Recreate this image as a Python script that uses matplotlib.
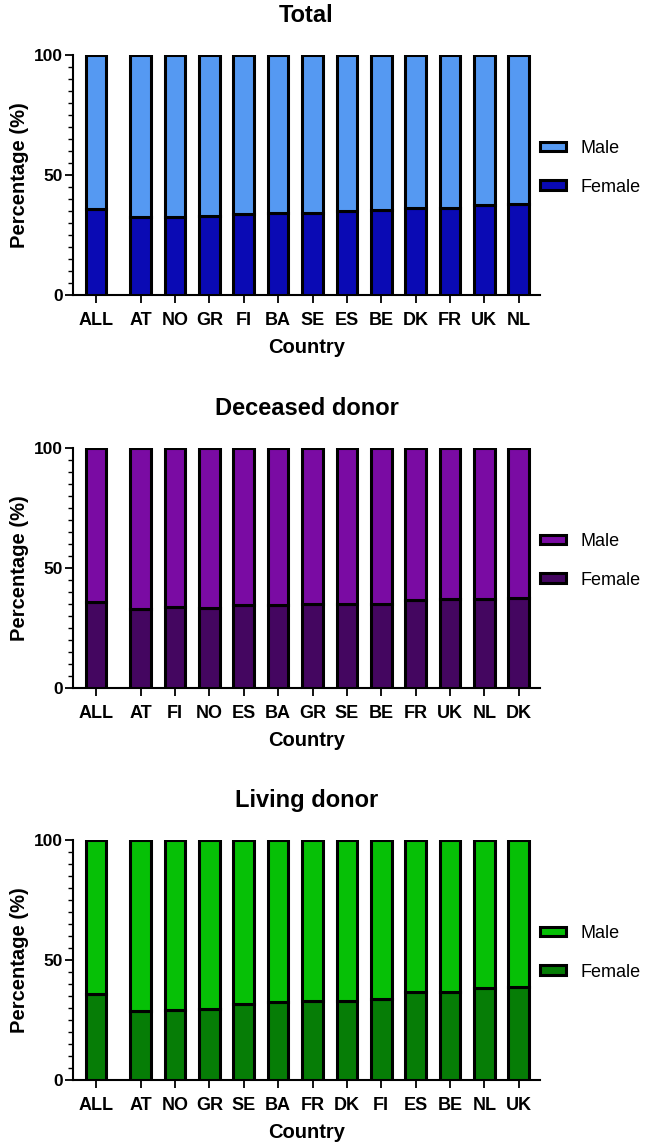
import matplotlib
matplotlib.use("Agg")
import matplotlib.pyplot as plt
import numpy as np

plt.rcParams['font.family'] = ['Liberation Sans', 'DejaVu Sans']

# female share (%) per country; male = 100 - female
total_countries = ["ALL", "AT", "NO", "GR", "FI", "BA", "SE", "ES", "BE", "DK", "FR", "UK", "NL"]
total_female = [35.8, 32.3, 32.3, 33.1, 33.7, 34.0, 34.3, 34.8, 35.4, 36.1, 36.2, 37.5, 37.9]

deceased_countries = ["ALL", "AT", "FI", "NO", "ES", "BA", "GR", "SE", "BE", "FR", "UK", "NL", "DK"]
deceased_female = [35.7, 33.1, 33.6, 33.4, 34.4, 34.5, 35.0, 35.2, 35.2, 36.6, 36.9, 37.0, 37.7]

living_countries = ["ALL", "AT", "NO", "GR", "SE", "BA", "FR", "DK", "FI", "ES", "BE", "NL", "UK"]
living_female = [35.9, 28.8, 29.0, 29.7, 31.8, 32.7, 33.0, 33.1, 33.6, 36.8, 36.8, 38.3, 38.6]

panels = [
    ("Total", total_countries, total_female, "#5599f2", "#0a0ab4"),
    ("Deceased donor", deceased_countries, deceased_female, "#7a0ba3", "#440660"),
    ("Living donor", living_countries, living_female, "#06c006", "#067d06"),
]

W, H = 649, 1146
fig = plt.figure(figsize=(W / 100, H / 100), dpi=100)

bottoms = [295, 688, 1080]
left, right = 73, 540
ax_h = 240

for (title, countries, female, c_male, c_female), yb in zip(panels, bottoms):
    ax = fig.add_axes([left / W, (H - yb) / H, (right - left) / W, ax_h / H])
    female = np.array(female)
    male = 100 - female
    x = np.array([0] + [1.3 + i for i in range(len(countries) - 1)])
    ax.bar(x, female, width=0.6, color=c_female, edgecolor='black', linewidth=2.2,
           label="Female", zorder=3)
    ax.bar(x, male, bottom=female, width=0.6, color=c_male, edgecolor='black',
           linewidth=2.2, label="Male", zorder=3)
    ax.set_xlim(x[0] - 0.67, x[-1] + 0.62)
    ax.set_ylim(0, 100)
    ax.set_yticks([0, 50, 100])
    ax.set_yticks(np.arange(0, 101, 5), minor=True)
    ax.set_xticks(x)
    ax.set_xticklabels(countries)
    ax.tick_params(axis='both', which='major', width=1.3, length=6, pad=3)
    ax.tick_params(axis='y', which='minor', width=1.0, length=3.6)
    ax.tick_params(axis='x', labelsize=13, pad=6)
    ax.tick_params(axis='y', labelsize=12.5, pad=1)
    for lab in ax.get_xticklabels() + ax.get_yticklabels():
        lab.set_fontweight('bold')
    ax.spines['top'].set_visible(False)
    ax.spines['right'].set_visible(False)
    ax.spines['left'].set_linewidth(1.5)
    ax.spines['bottom'].set_linewidth(1.5)
    ax.set_title(title, fontsize=17, fontweight='bold', pad=24)
    ax.set_xlabel("Country", fontsize=14.5, fontweight='bold', labelpad=7)
    ax.set_ylabel("Percentage (%)", fontsize=14.5, fontweight='bold', labelpad=4)
    h, l = ax.get_legend_handles_labels()
    ax.legend(h[::-1], l[::-1], loc='center left', bbox_to_anchor=(1.0, 0.53),
              frameon=False, fontsize=13, handlelength=1.45, handleheight=0.45,
              labelspacing=1.2, handletextpad=0.8, borderaxespad=0, borderpad=0)

fig.savefig("out.png", dpi=100)
